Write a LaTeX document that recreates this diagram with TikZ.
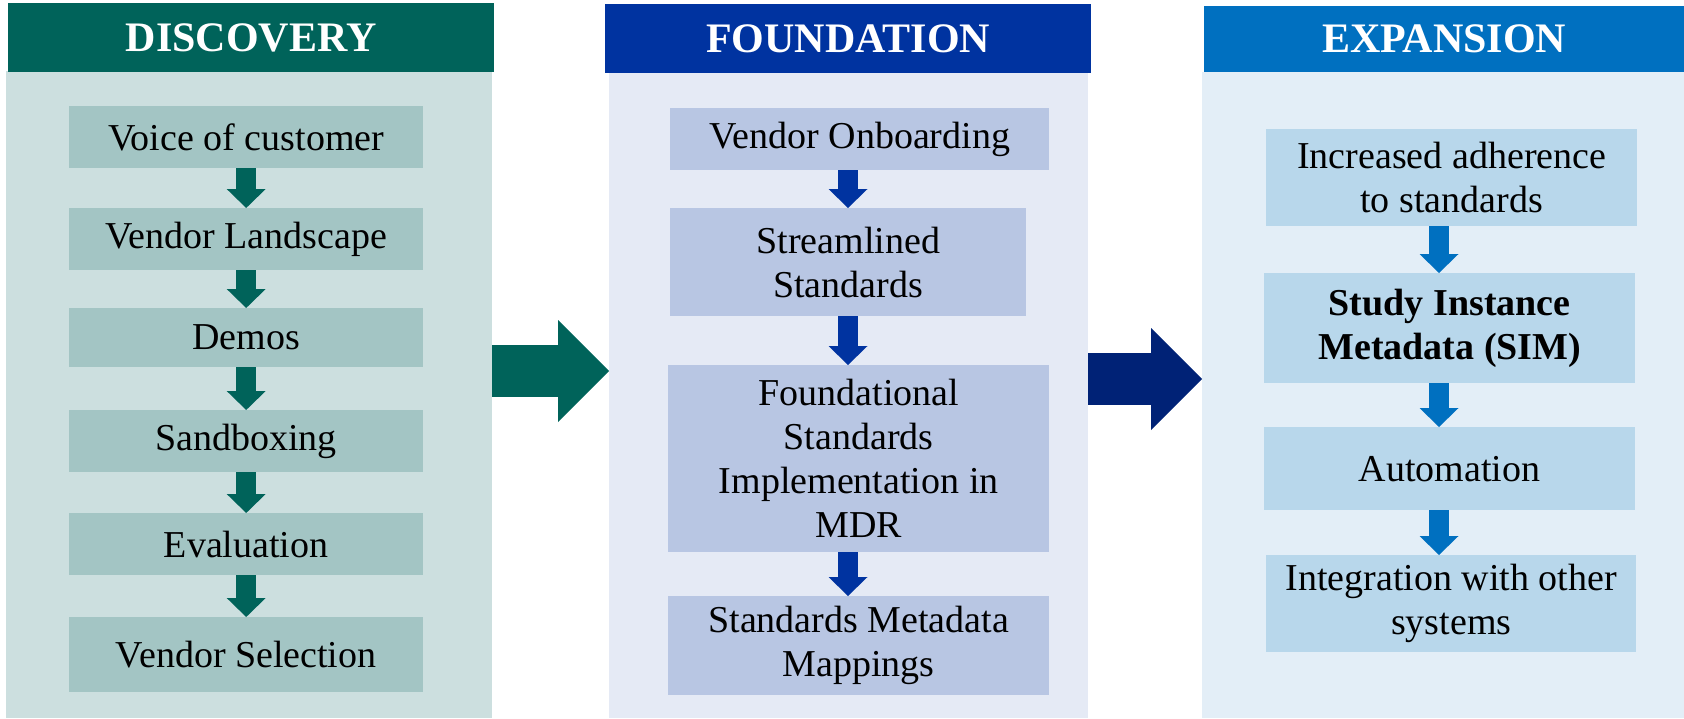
\documentclass[tikz,border=0pt]{standalone}
\usepackage{fontspec}
\setmainfont{Liberation Serif}
\usetikzlibrary{arrows.meta,positioning}

\definecolor{discdark}{HTML}{00635A}
\definecolor{discpale}{HTML}{CCDFDF}
\definecolor{discbox}{HTML}{A3C5C4}
\definecolor{founddark}{HTML}{0033A0}
\definecolor{foundpale}{HTML}{E5EAF5}
\definecolor{foundbox}{HTML}{B8C6E3}
\definecolor{expdark}{HTML}{0070C0}
\definecolor{exppale}{HTML}{E3EEF7}
\definecolor{expbox}{HTML}{B8D7EB}
\definecolor{navy}{HTML}{002276}

\tikzset{
	header/.style={anchor=north west, inner sep=0pt, text=white,
		font=\fontsize{42}{48}\selectfont\bfseries},
	panel/.style={anchor=north west, inner sep=0pt},
	stage/.style={anchor=north west, inner sep=0pt, align=center,
		font=\fontsize{38}{44}\selectfont},
	flow/.style={line width=20pt, -{Triangle[length=19pt,width=39pt,line width=0pt]}},
	jump/.style={line width=52pt, -{Triangle[length=51pt,width=102pt,line width=0pt]}},
}

\begin{document}
\begin{tikzpicture}[x=1pt,y=-1pt]
		\useasboundingbox (0,0) rectangle (1684,718);
		% panels
		\node[panel, fill=discpale, minimum width=486pt, minimum height=647pt] (dbody) at (6,71) {};
		\node[header, fill=discdark, minimum width=486pt, minimum height=69pt] (dhead) at (8,3) {DISCOVERY};
		\node[panel, fill=foundpale, minimum width=479pt, minimum height=645pt] (fbody) at (609,73) {};
		\node[header, fill=founddark, minimum width=486pt, minimum height=69pt] (fhead) at (605,4) {FOUNDATION};
		\node[panel, fill=exppale, minimum width=482pt, minimum height=646pt] (ebody) at (1202,72) {};
		\node[header, fill=expdark, minimum width=480pt, minimum height=66pt] (ehead) at (1204,6) {EXPANSION};

		% discovery
		\node[stage, fill=discbox, minimum width=354pt, minimum height=62pt] (dv1) at (69,106) {Voice of customer};
		\node[stage, fill=discbox, minimum width=354pt, minimum height=62pt] (dv2) at (69,208) {Vendor Landscape};
		\node[stage, fill=discbox, minimum width=354pt, minimum height=59pt] (dv3) at (69,308) {Demos};
		\node[stage, fill=discbox, minimum width=354pt, minimum height=62pt] (dv4) at (69,410) {Sandboxing};
		\node[stage, fill=discbox, minimum width=354pt, minimum height=62pt] (dv5) at (69,513) {Evaluation};
		\node[stage, fill=discbox, minimum width=354pt, minimum height=75pt] (dv6) at (69,617) {Vendor Selection};
		\foreach \a/\b in {dv1/dv2,dv2/dv3,dv3/dv4,dv4/dv5,dv5/dv6}
			\draw[flow, discdark] (\a.south) -- (\b.north);

		% foundation
		\coordinate (fx) at (848,0);
		\node[stage, fill=foundbox, minimum width=379pt, minimum height=62pt] (fn1) at (670,108) {Vendor Onboarding};
		\node[stage, fill=foundbox, minimum width=356pt, minimum height=108pt] (fn2) at (670,208) {Streamlined\\Standards};
		\node[stage, fill=foundbox, minimum width=381pt, minimum height=187pt] (fn3) at (668,365) {Foundational\\Standards\\Implementation in\\MDR};
		\node[stage, fill=foundbox, minimum width=381pt, minimum height=99pt] (fn4) at (668,596) {Standards Metadata\\Mappings};
		\foreach \a/\b in {fn1/fn2,fn2/fn3,fn3/fn4}
			\draw[flow, founddark] (\a.south -| fx) -- (\b.north -| fx);

		% expansion
		\coordinate (ex) at (1439,0);
		\node[stage, fill=expbox, minimum width=371pt, minimum height=97pt] (ex1) at (1266,129) {Increased adherence\\to standards};
		\node[stage, fill=expbox, minimum width=371pt, minimum height=110pt, font=\fontsize{38}{44}\selectfont\bfseries] (ex2) at (1264,273) {Study Instance\\Metadata (SIM)};
		\node[stage, fill=expbox, minimum width=371pt, minimum height=83pt] (ex3) at (1264,427) {Automation};
		\node[stage, fill=expbox, minimum width=370pt, minimum height=97pt] (ex4) at (1266,555) {Integration with other\\systems};
		\foreach \a/\b in {ex1/ex2,ex2/ex3,ex3/ex4}
			\draw[flow, expdark] (\a.south -| ex) -- (\b.north -| ex);

		% between panels
		\coordinate (lvl1) at (0,371);
		\coordinate (lvl2) at (0,379);
		\draw[jump, discdark] (dbody.east |- lvl1) -- (fbody.west |- lvl1);
		\draw[jump, navy] (fbody.east |- lvl2) -- (ebody.west |- lvl2);
\end{tikzpicture}
\end{document}
